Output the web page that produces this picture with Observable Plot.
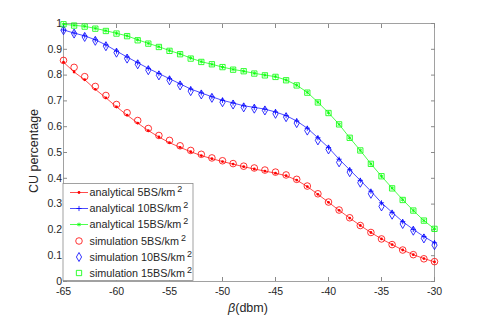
<!DOCTYPE html>
<html><head><meta charset="utf-8">
<script src="https://cdn.jsdelivr.net/npm/d3@7"></script>
<script src="https://cdn.jsdelivr.net/npm/@observablehq/plot@0.6"></script>
<style>
body{margin:0;background:#fff;}
#wrap{position:relative;width:480px;height:316px;}
#wrap svg{position:absolute;left:0;top:0;}
</style></head>
<body><div id="wrap"></div>
<script>
const beta = d3.range(-65, -29, 1);
const ana5 = [0.850,0.812,0.782,0.745,0.712,0.677,0.645,0.614,0.585,0.560,0.538,0.520,0.503,0.488,0.476,0.465,0.455,0.445,0.436,0.428,0.420,0.410,0.393,0.368,0.338,0.307,0.276,0.246,0.217,0.190,0.165,0.143,0.122,0.104,0.089,0.076];
const sim5 = [0.857,0.830,0.794,0.756,0.721,0.686,0.654,0.624,0.593,0.566,0.547,0.526,0.508,0.493,0.479,0.468,0.457,0.447,0.440,0.432,0.424,0.413,0.396,0.370,0.340,0.308,0.277,0.247,0.217,0.190,0.165,0.143,0.122,0.104,0.088,0.077];
const ana10 = [0.975,0.963,0.952,0.937,0.917,0.893,0.870,0.848,0.826,0.806,0.786,0.766,0.746,0.731,0.716,0.702,0.692,0.681,0.675,0.668,0.657,0.643,0.622,0.594,0.557,0.519,0.474,0.433,0.392,0.350,0.305,0.268,0.232,0.202,0.174,0.150];
const sim10 = [0.974,0.961,0.948,0.933,0.912,0.887,0.864,0.842,0.819,0.799,0.780,0.760,0.738,0.725,0.712,0.695,0.686,0.675,0.670,0.663,0.650,0.637,0.614,0.585,0.547,0.512,0.462,0.424,0.383,0.340,0.291,0.259,0.223,0.197,0.167,0.141];
const ana15 = [0.997,0.993,0.989,0.981,0.972,0.962,0.952,0.937,0.923,0.910,0.895,0.882,0.866,0.852,0.842,0.831,0.822,0.815,0.807,0.800,0.794,0.781,0.761,0.733,0.695,0.654,0.609,0.557,0.508,0.456,0.408,0.362,0.317,0.275,0.236,0.204];
const sim15 = [0.997,0.992,0.988,0.980,0.971,0.961,0.951,0.935,0.922,0.909,0.894,0.881,0.864,0.851,0.842,0.831,0.821,0.815,0.806,0.799,0.793,0.780,0.760,0.732,0.694,0.653,0.609,0.557,0.508,0.456,0.408,0.361,0.316,0.275,0.236,0.204];
const xTicks = [-65,-60,-55,-50,-45,-40,-35,-30];
const yTicks = [0,0.1,0.2,0.3,0.4,0.5,0.6,0.7,0.8,0.9,1];
const legendLabels = ["analytical 5BS/km","analytical 10BS/km","analytical 15BS/km","simulation 5BS/km","simulation 10BS/km","simulation 15BS/km"];
const colors = ["#ff0000","#0000ff","#00ff00"];

const rows = (ys) => beta.map((b,i) => ({x:b, y:ys[i]}));
const font = "'Liberation Sans', Arial, sans-serif";
const axisCol = "#262626";
const boxCol = "#8a8a8a";

const chart = Plot.plot({
  width:480, height:316,
  marginLeft:63, marginRight:46, marginTop:23, marginBottom:35,
  style:{fontFamily:font, fontSize:"10.5px", color:axisCol, background:"transparent"},
  x:{domain:[-65,-30]},
  y:{domain:[0,1]},
  marks:[
    Plot.frame({stroke:boxCol, strokeWidth:0.8}),
    Plot.axisX({ticks:xTicks, tickSize:-4, tickPadding:10.5, tickFormat:d=>String(d), stroke:boxCol, label:null, fill:axisCol}),
    Plot.axisX({anchor:"top", ticks:xTicks, tickSize:-4, tickFormat:()=>"", stroke:boxCol, label:null}),
    Plot.axisY({ticks:yTicks, tickSize:-4, tickPadding:5.5, tickFormat:d=>String(+d.toFixed(1)), stroke:boxCol, label:null, fill:axisCol}),
    Plot.axisY({anchor:"right", ticks:yTicks, tickSize:-4, tickFormat:()=>"", stroke:boxCol, label:null}),
    Plot.line(rows(ana5), {x:"x", y:"y", stroke:colors[0], strokeWidth:0.7}),
    Plot.line(rows(ana10), {x:"x", y:"y", stroke:colors[1], strokeWidth:0.7}),
    Plot.line(rows(ana15), {x:"x", y:"y", stroke:colors[2], strokeWidth:0.7}),
    Plot.dot(rows(ana5), {x:"x", y:"y", r:1.4, fill:colors[0], stroke:"none"}),
    Plot.dot(rows(ana10), {x:"x", y:"y", symbol:"plus", r:1.8, stroke:colors[1], strokeWidth:0.8}),
    Plot.dot(rows(ana15), {x:"x", y:"y", symbol:"asterisk", r:1.8, stroke:colors[2], strokeWidth:0.8}),
    Plot.dot(rows(sim5), {x:"x", y:"y", r:3.3, stroke:colors[0], strokeWidth:0.8, fill:"none"}),
    Plot.dot(rows(sim10), {x:"x", y:"y", symbol:"diamond", r:2.75, stroke:colors[1], strokeWidth:0.8, fill:"none"}),
    Plot.dot(rows(sim15), {x:"x", y:"y", symbol:"square", r:3.0, stroke:colors[2], strokeWidth:0.8, fill:"none"})
  ]
});
document.getElementById("wrap").appendChild(chart);

// overlay: axis titles and legend
const svg = d3.select("#wrap").append("svg").attr("width",480).attr("height",316)
  .style("font-family",font);
svg.append("text").attr("transform","translate(38,151) rotate(-90)").attr("text-anchor","middle")
  .attr("font-size",12.5).attr("fill",axisCol).text("CU percentage");
const xl = svg.append("text").attr("x",248).attr("y",312).attr("text-anchor","middle")
  .attr("font-size",12.5).attr("fill",axisCol);
xl.append("tspan").attr("font-style","italic").text("β");
xl.append("tspan").text("(dbm)");

const lg = svg.append("g");
lg.append("rect").attr("x",63).attr("y",183.5).attr("width",130).attr("height",97)
  .attr("fill","#fff").attr("stroke",boxCol).attr("stroke-width",0.8);
const ys = [192.5,208.5,224.5,241,257,273];
legendLabels.forEach((lab,i) => {
  const y = ys[i];
  const c = colors[i%3];
  const cx = 79;
  if (i < 3) {
    lg.append("line").attr("x1",70).attr("x2",88).attr("y1",y).attr("y2",y).attr("stroke",c).attr("stroke-width",0.7);
    const sym = [d3.symbolCircle, d3.symbolPlus, d3.symbolAsterisk][i];
    const size = [6, 10, 10][i];
    lg.append("path").attr("d", d3.symbol(sym, size)()).attr("transform",`translate(${cx},${y})`)
      .attr("fill", i===0 ? c : "none").attr("stroke", i===0 ? "none" : c).attr("stroke-width",0.8);
  } else {
    const sym = [d3.symbolCircle, d3.symbolDiamond, d3.symbolSquare][i-3];
    const size = [34, 23.5, 28][i-3];
    lg.append("path").attr("d", d3.symbol(sym, size)()).attr("transform",`translate(${cx},${y})`)
      .attr("fill","none").attr("stroke",c).attr("stroke-width",0.8);
  }
  const t = lg.append("text").attr("x",89.5).attr("y",y+3.8).attr("font-size",10.8).attr("fill",axisCol);
  t.append("tspan").text(lab);
  t.append("tspan").attr("dx",2).attr("dy",-4).attr("font-size",9).text("2");
});
</script>
</body></html>
